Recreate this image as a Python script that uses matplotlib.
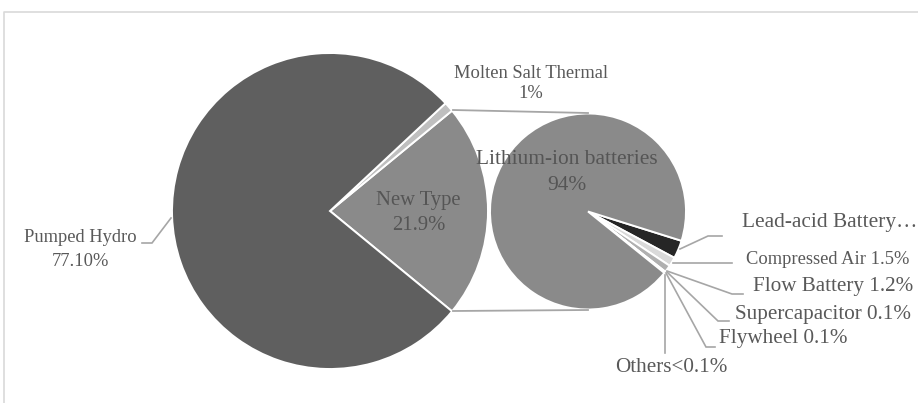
import matplotlib
matplotlib.use("Agg")
import matplotlib.pyplot as plt

plt.rcParams['font.family'] = ['Liberation Serif', 'DejaVu Serif']

# ---- data ----
main_categories = ["New Type", "Molten Salt Thermal", "Pumped Hydro"]
main_values = [21.9, 1.0, 77.1]
main_value_labels = ["21.9%", "1%", "77.10%"]

sub_categories = ["Lead-acid Battery", "Compressed Air", "Flow Battery",
                  "Supercapacitor", "Flywheel", "Others", "Lithium-ion batteries"]
sub_values = [3.0, 1.5, 1.2, 0.1, 0.1, 0.05, 94.0]
sub_value_labels = ["", "1.5%", "1.2%", "0.1%", "0.1%", "<0.1%", "94%"]

main_colors = ["#8a8a8a", "#bfbfbf", "#5f5f5f"]
sub_colors = ["#262626", "#d9d9d9", "#b0b0b0", "#a0a0a0", "#a0a0a0", "#a0a0a0", "#8a8a8a"]

W, H = 918, 403
fig = plt.figure(figsize=(W / 100, H / 100), dpi=100)
ax = fig.add_axes([0, 0, 1, 1])

def Y(py):
    return H - py

txt_col = "#595959"
line_col = "#a6a6a6"

# main pie
main_start = -main_values[0] / 100 * 360 / 2
ax.pie(main_values, colors=main_colors, startangle=main_start, counterclock=True,
       center=(330, Y(211)), radius=158,
       wedgeprops=dict(edgecolor="white", linewidth=1.4))

# secondary pie
ax.pie(sub_values, colors=sub_colors, startangle=-17.4, counterclock=False,
       center=(588, Y(211.5)), radius=98,
       wedgeprops=dict(edgecolor="white", linewidth=1.4))

ax.set_xlim(0, W)
ax.set_ylim(0, H)
ax.set_aspect('equal')
ax.axis('off')

# border
ax.plot([4, 4, W], [0, Y(12), Y(12)], color="#d9d9d9", lw=1.2, clip_on=False)

# connector lines between pies
ax.plot([453, 588], [Y(110), Y(113)], color=line_col, lw=1.3)
ax.plot([453, 588], [Y(311), Y(310)], color=line_col, lw=1.3)

def lead(xs, ys):
    ax.plot(xs, [Y(v) for v in ys], color=line_col, lw=1.2, solid_joinstyle='miter')

# leader lines
lead([142, 152, 171], [243, 243, 218])          # Pumped Hydro
lead([680, 708, 722], [249, 236, 236])          # Lead-acid
lead([673, 732], [263, 263])                    # Compressed Air
lead([667, 732, 743], [271, 294, 294])          # Flow
lead([667, 718, 729], [272, 321, 321])          # Supercap
lead([666, 706, 715], [273, 347, 347])          # Flywheel
lead([665, 665], [275, 353])                    # Others

def two_line(x, y1, y2, a, b, fs, col):
    ax.text(x, Y(y1), a, ha="center", va="center", fontsize=fs, color=col)
    ax.text(x, Y(y2), b, ha="center", va="center", fontsize=fs, color=col)

# labels
two_line(80, 238, 261, main_categories[2], main_value_labels[2], 13.3, txt_col)
two_line(531, 73, 94, main_categories[1], main_value_labels[1], 13.3, txt_col)
two_line(418.5, 200, 226, main_categories[0], main_value_labels[0], 14.9, "#555555")
two_line(567, 159, 185, sub_categories[6], sub_value_labels[6], 15.4, "#555555")

ax.text(742, Y(223), "Lead-acid Battery…", ha="left", va="center", fontsize=15.4, color=txt_col)
ax.text(746, Y(260), f"{sub_categories[1]} {sub_value_labels[1]}", ha="left", va="center",
        fontsize=13.3, color=txt_col)
ax.text(753, Y(286), f"{sub_categories[2]} {sub_value_labels[2]}", ha="left", va="center",
        fontsize=15.2, color=txt_col)
ax.text(735, Y(314), f"{sub_categories[3]} {sub_value_labels[3]}", ha="left", va="center",
        fontsize=15.2, color=txt_col)
ax.text(719, Y(339), f"{sub_categories[4]} {sub_value_labels[4]}", ha="left", va="center",
        fontsize=15.2, color=txt_col)
ax.text(671, Y(367), f"{sub_categories[5]}{sub_value_labels[5]}", ha="center", va="center",
        fontsize=15.2, color=txt_col)

fig.savefig("out.png", dpi=100)
